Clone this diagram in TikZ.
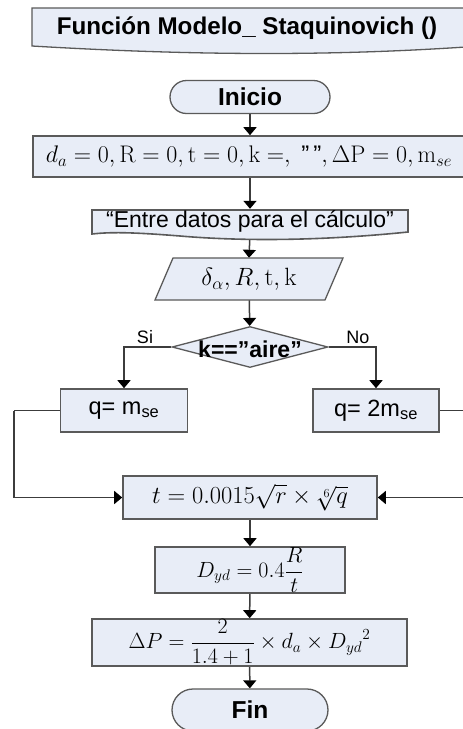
\RequirePackage{fix-cm}
\documentclass[tikz,border=0pt]{standalone}
\usepackage[no-math]{fontspec}
\usepackage{amsmath}
\setmainfont{Liberation Sans}
\usetikzlibrary{shapes.geometric,shapes.misc,arrows.meta}
\pgfdeclarelayer{back}
\pgfdeclarelayer{bg}
\pgfsetlayers{back,bg,main}
\definecolor{boxfill}{HTML}{E8EDF7}
\definecolor{boxline}{HTML}{5A5A5A}
\definecolor{conline}{HTML}{3C3C3C}
\tikzset{
  procbox/.style={draw=boxline, line width=1.6pt, fill=boxfill, rectangle, inner sep=0pt},
  termbox/.style={draw=boxline, line width=1.3pt, fill=boxfill, rounded rectangle, inner sep=0pt},
  decbox/.style={draw=boxline, line width=1.3pt, fill=boxfill, diamond, inner sep=0pt},
  ghost/.style={rectangle, inner sep=0pt},
  flow/.style={draw=conline, line width=1.5pt, -{Triangle[width=13pt,length=8pt,color=black]}},
  plain/.style={draw=conline, line width=1.5pt},
  lbl/.style={font=\fontsize{18}{20}\selectfont, inner sep=0pt}
}
\begin{document}
\begin{tikzpicture}[x=1pt,y=-1pt]
\useasboundingbox (0,0) rectangle (463,729);
\clip (0,0) rectangle (463,729);
\begin{pgfonlayer}{back}
\fill[white] (0,0) rectangle (463,729);
\end{pgfonlayer}

% title document shape
\draw[draw=boxline, line width=1.3pt, fill=boxfill]
  (32,8) -- (480,8) -- (480,46) .. controls (340,56) and (200,56) .. (32,46) -- cycle;
\node[ghost, font=\bfseries\fontsize{24.2}{26}\selectfont] (title) at (247,28) {Función Modelo\_ Staquinovich ()};

% Inicio
\node[termbox, minimum width=160pt, minimum height=33pt, font=\bfseries\fontsize{24.5}{26}\selectfont] (ini) at (250,97) {Inicio};

% init box
\node[procbox, minimum width=446pt, minimum height=41pt, font=\fontsize{24}{26}\selectfont] (init) at (256,156.5)
  {\hspace*{-14pt}$d_a = 0, \mathrm{R} = 0, \mathrm{t} = 0, \mathrm{k} = ,\ \text{"\,"}, \Delta\mathrm{P} = 0, \mathrm{m}_{se}$};

% Entre datos document shape
\draw[draw=boxline, line width=1.6pt, fill=boxfill]
  (92,210) -- (408,210) -- (408,232) .. controls (330,240) and (250,242) .. (180,236)
  .. controls (130,232) and (110,232) .. (92,234) -- cycle;
\node[ghost, minimum width=316pt, minimum height=24pt, font=\fontsize{23}{25}\selectfont] (entre) at (250,221) {``Entre datos para el cálculo''};

% parallelogram
\draw[draw=boxline, line width=1.3pt, fill=boxfill]
  (173,258) -- (343,258) -- (325,300) -- (155,300) -- cycle;
\node[ghost, minimum width=140pt, minimum height=42pt, font=\fontsize{25}{27}\selectfont] (par) at (249,279) {$\delta_\alpha, R, \mathrm{t}, \mathrm{k}$};

% decision
\node[decbox, minimum width=156pt, minimum height=41pt,
  label={[font=\bfseries\fontsize{23}{25}\selectfont, inner sep=0pt, yshift=-2pt]center:k==''aire''}] (dec) at (250,347) {};

% branch boxes
\node[procbox, minimum width=127pt, minimum height=43pt, font=\fontsize{23.5}{25}\selectfont] (q1) at (124,410.5) {q= m\textsubscript{se}};
\node[procbox, minimum width=126pt, minimum height=43pt, font=\fontsize{23.5}{25}\selectfont] (q2) at (376,410.5) {q= 2m\textsubscript{se}};

% t box
\node[procbox, minimum width=254pt, minimum height=43pt, font=\fontsize{24.5}{26}\selectfont] (tbox) at (250,497.5) {$t = 0.0015\sqrt{r}\times\sqrt[6]{q}$};

% D box
\node[procbox, minimum width=190pt, minimum height=46pt, font=\fontsize{22}{24}\selectfont] (dbox) at (250,570) {$D_{yd} = 0.4\dfrac{R}{t}$};

% Delta P box
\node[procbox, minimum width=315pt, minimum height=47pt, font=\fontsize{22}{24}\selectfont] (pbox) at (249.5,642.5) {$\Delta P = \dfrac{2}{1.4+1}\times d_a\times {D_{yd}}^{2}$};

% Fin
\node[termbox, minimum width=156pt, minimum height=42pt, font=\bfseries\fontsize{24.5}{26}\selectfont] (fin) at (250,710) {Fin};

% loop coordinates
\coordinate (lc) at (14,410.5);
\coordinate (rc) at (470,410.5);

% connectors
\begin{pgfonlayer}{bg}
\draw[flow] (ini.south) -- (ini.south |- init.north);
\draw[flow] (init.south -| entre.north) -- (entre.north);
\draw[flow] (entre.south) -- (par.north);
\draw[flow] (par) -- (dec);
\draw[flow] (dec.west) -| (q1.north);
\draw[flow] (dec.east) -| (q2.north);
\draw[plain] (q1.west) -- (lc);
\draw[flow] (lc) |- (tbox.west);
\draw[plain] (q2.east) -- (rc);
\draw[flow] (rc) |- (tbox.east);
\draw[flow] (tbox) -- (dbox);
\draw[flow] (dbox) -- (pbox);
\draw[flow] (pbox) -- (fin);
\end{pgfonlayer}

% labels
\node[lbl] (si) at (145,337) {Si};
\node[lbl] (no) at (358,337) {No};
\end{tikzpicture}
\end{document}
